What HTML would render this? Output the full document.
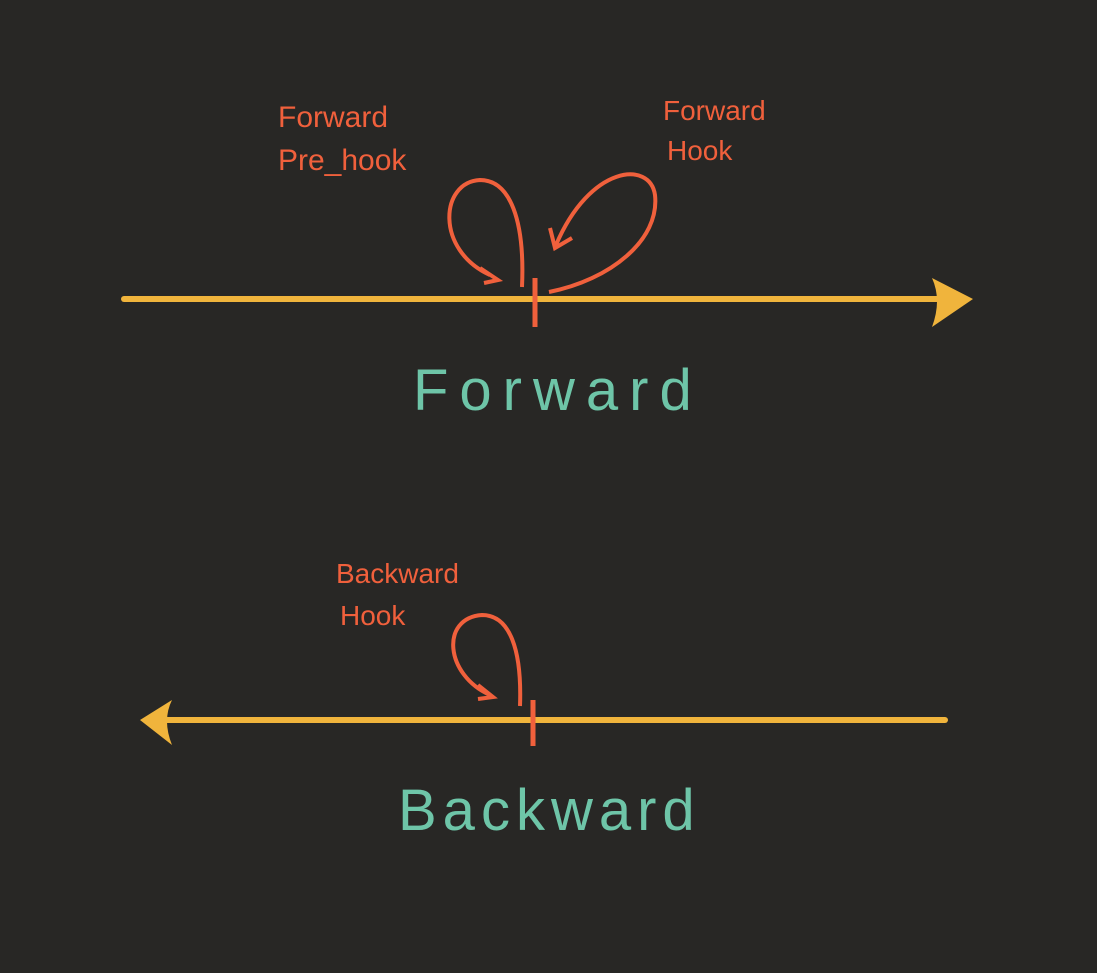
<!DOCTYPE html>
<html><head><meta charset="utf-8"><style>
html,body{margin:0;padding:0;background:#282725;}
svg{display:block}
text{font-family:"Liberation Sans",sans-serif;}
</style></head><body>
<svg width="1097" height="973" viewBox="0 0 1097 973">
<rect width="1097" height="973" fill="#282725"/>
<g>
<line x1="124" y1="299" x2="945" y2="299" stroke="#f0b43c" stroke-width="6" stroke-linecap="round"/>
<path d="M932 278 L973 299 L932 327 Q942 300 932 278 Z" fill="#f0b43c"/>
<line x1="535" y1="278" x2="535" y2="327" stroke="#f0603c" stroke-width="5"/>
<path d="M522 287 C525 220 510 180 480 180 C440 182 435 250 490 275" fill="none" stroke="#f0603c" stroke-width="4"/>
<path d="M480 268 L498 280 L484 283" fill="none" stroke="#f0603c" stroke-width="4"/>
<path d="M549 292 C610 280 660 240 655 195 C650 160 590 165 556 245" fill="none" stroke="#f0603c" stroke-width="4"/>
<path d="M550 228 L555 248 L572 238" fill="none" stroke="#f0603c" stroke-width="4"/>
<text x="278" y="127" fill="#f0603c" font-size="30">Forward</text>
<text x="278" y="170" fill="#f0603c" font-size="30">Pre_hook</text>
<text x="663" y="120" fill="#f0603c" font-size="28">Forward</text>
<text x="667" y="160" fill="#f0603c" font-size="28">Hook</text>
<text x="413" y="410" fill="#6ec5a8" font-size="58" letter-spacing="11">Forward</text>
</g>
<g>
<line x1="160" y1="720" x2="945" y2="720" stroke="#f0b43c" stroke-width="6" stroke-linecap="round"/>
<path d="M172 700 L140 720 L172 745 Q162 720 172 700 Z" fill="#f0b43c"/>
<line x1="533" y1="700" x2="533" y2="746" stroke="#f0603c" stroke-width="5"/>
<path d="M520 706 C522 650 510 615 482 615 C440 618 445 675 490 695" fill="none" stroke="#f0603c" stroke-width="4"/>
<path d="M478 685 L493 697 L478 699" fill="none" stroke="#f0603c" stroke-width="4"/>
<text x="336" y="583" fill="#f0603c" font-size="28">Backward</text>
<text x="340" y="625" fill="#f0603c" font-size="28">Hook</text>
<text x="398" y="830" fill="#6ec5a8" font-size="58" letter-spacing="6">Backward</text>
</g>
</svg>
</body></html>
